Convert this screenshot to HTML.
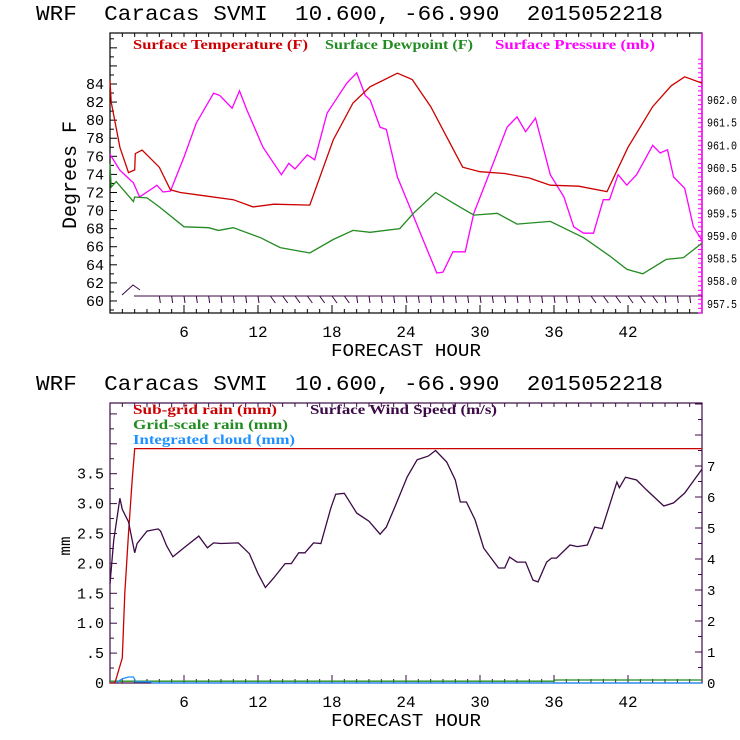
<!DOCTYPE html>
<html><head><meta charset="utf-8"><style>
body{margin:0;background:#fff}
svg{display:block}
text{white-space:pre}
.t{font-family:"Liberation Mono",monospace;fill:#000}
.lg{font-family:"Liberation Serif",serif;font-size:14px;font-weight:bold}
</style></head><body>
<svg id="c" width="740" height="740" viewBox="0 0 740 740"></svg>
<script>
// ---- data (hours / values) ----
const tempH=[0,0.1,0.8,1.5,2,2.05,2.6,4,4.9,5.7,7.3,10,11.6,13.3,16.2,18.1,19.7,21.1,23.3,24.5,26,28.6,30,32,34,35.7,38,40.3,42,44,45.5,46.6,48];
const tempV=[84.4,82,77,74.2,74.5,76.3,76.7,74.8,72.3,72,71.7,71.2,70.4,70.7,70.6,77.8,81.9,83.7,85.2,84.5,81.5,74.8,74.3,74.1,73.6,72.8,72.7,72.1,77,81.5,83.8,84.8,84.1];
const dewH=[0,0.1,0.5,1.9,2,3,4,6,8,8.8,10,12.2,13.8,16.2,18.1,19.7,21.1,23.5,24.6,26.4,28.1,29.5,31.4,33,35.7,38.4,40.5,41.9,43.2,45.1,46.5,48];
const dewV=[75.2,72.6,73.2,71,71.5,71.4,70.4,68.2,68.1,67.8,68.1,67,65.9,65.3,66.8,67.8,67.6,68,69.7,72,70.6,69.5,69.7,68.5,68.8,67,65,63.5,63,64.6,64.8,66.4];
const presH=[0,0.8,1.9,2.4,3.5,3.8,4.3,4.9,6,7,8.4,8.9,9.9,10.5,11.1,12.4,13.9,14.5,15,16,16.6,17.6,18.4,19.2,20,20.7,21.1,21.9,22.4,23.3,24.3,25.4,26.5,27,27.8,28.8,29.5,30.5,32.2,33,33.7,34.5,35.7,36.8,37.6,38.4,39.2,40,40.5,41.2,41.9,42.7,44,44.6,45.2,45.7,46.6,47.3,48];
const presV=[960.8,960.45,960.17,959.86,960.06,960.12,959.97,959.99,960.74,961.49,962.15,962.1,961.82,962.2,961.78,960.96,960.35,960.6,960.48,960.79,960.68,961.71,962.04,962.37,962.6,962.1,962.0,961.4,961.35,960.3,959.64,958.9,958.18,958.2,958.65,958.65,959.5,960.2,961.4,961.63,961.3,961.6,960.35,959.86,959.2,959.06,959.06,959.8,959.8,960.35,960.12,960.35,961,960.83,960.9,960.3,960.05,959.2,958.9];
const windH=[0,0.3,0.8,1,1.5,2,2.2,3,3.9,4.1,4.6,5.1,6,7.2,7.9,8.4,9,10.4,11.3,12,12.6,13.3,14.2,14.7,15.3,15.8,16.5,17.1,17.9,18.3,19,20,21,21.9,22.4,23.1,24.1,24.9,25.8,26.4,27.3,28,28.4,28.9,29.6,30.3,31.5,32,32.4,33,33.7,34.3,34.7,35.4,35.8,36.2,37.3,37.9,38.7,39.3,39.9,41.1,41.3,41.8,42.7,43.5,44.9,45.7,46.6,48];
const windV=[3.2,4.6,5.96,5.6,5.2,4.2,4.5,4.9,4.97,4.9,4.42,4.07,4.36,4.74,4.36,4.52,4.5,4.52,4.17,3.53,3.08,3.4,3.85,3.85,4.2,4.2,4.52,4.5,5.64,6.09,6.12,5.48,5.22,4.8,5.03,5.68,6.65,7.2,7.32,7.5,7.13,6.55,5.84,5.84,5.26,4.35,3.71,3.71,4.06,3.9,3.9,3.32,3.26,3.9,4.03,4.03,4.45,4.4,4.45,5.03,4.98,6.48,6.3,6.64,6.55,6.23,5.71,5.81,6.13,6.9];
const subH=[0,0.4,1,1.2,1.5,1.8,2,48];
const subV=[0,0,0.42,1.5,2.5,3.4,3.92,3.92];
const gridH=[0,36,36.1,48];
const gridV=[0.03,0.03,0.05,0.05];
const cloudH=[0,0.5,1,1.5,1.9,2.1,3.3,3.4,48];
const cloudV=[0,0.01,0.07,0.1,0.1,0.02,0.02,0,0];
const hourTicks=[6,12,18,24,30,36,42];
const tempTicks=[60,62,64,66,68,70,72,74,76,78,80,82,84];
const presTicks=[957.5,958.0,958.5,959.0,959.5,960.0,960.5,961.0,961.5,962.0];
const mmTicks=[0,0.5,1,1.5,2,2.5,3,3.5];
const mmLabels=["0",".5","1.0","1.5","2.0","2.5","3.0","3.5"];
const windTicks=[0,1,2,3,4,5,6,7];

// ---- axes ----
const X0=110,X1=702;
const xS=h=>X0+h*(X1-X0)/48;
const yTemp=v=>84+(84-v)*9.04;
const yPres=v=>100+(962-v)*45.3;
const yMM=v=>683-v*59.8;
const yWind=v=>683-v*31;

const svg=document.getElementById('c');
const NS='http://www.w3.org/2000/svg';
function el(tag,attrs,parent){const e=document.createElementNS(NS,tag);for(const k in attrs)e.setAttribute(k,attrs[k]);(parent||svg).appendChild(e);return e;}
function txt(s,x,y,attrs,parent){const e=el('text',Object.assign({x:x,y:y},attrs),parent);e.textContent=s;return e;}
function line(H,V,ys,color,name){
  let d='';H.forEach((h,i)=>{d+=(i?'L':'M')+xS(h).toFixed(1)+','+ys(V[i]).toFixed(1);});
  const p=el('path',{d:d,fill:'none',stroke:color,'stroke-width':1.3});
  
  
  return p;
}

// titles
[[20,'title-top'],[390,'title-bottom']].forEach(([y,n])=>{
  const t=txt('WRF  Caracas SVMI  10.600, -66.990  2015052218',36,y,{class:'t','font-size':21,textLength:627,lengthAdjust:'spacingAndGlyphs'});
  
  
});

function frame(y0,y1,color,name){
  const r=el('rect',{x:X0,y:y0,width:X1-X0,height:y1-y0,fill:'none',stroke:color,'stroke-width':1.2});
  
  
  for(let h=1;h<48;h++){
    const len=h%6===0?8:4;
    el('line',{x1:xS(h),x2:xS(h),y1:y1,y2:y1-len,stroke:color});
    el('line',{x1:xS(h),x2:xS(h),y1:y0,y2:y0+4,stroke:color});
  }
  hourTicks.forEach(h=>{const t=txt(String(h),xS(h),y1+24,{class:'t','font-size':16,'text-anchor':'middle'});
    
    });
  const xl=txt('FORECAST HOUR',406,y1+43,{class:'t','font-size':18,'text-anchor':'middle',textLength:150,lengthAdjust:'spacingAndGlyphs'});
  
  
}

// ---- top panel ----
frame(33,313,'#000','top-plot-frame');
for(let v=59;v<=89;v++){el('line',{x1:X0,x2:X0+(v%2===0?7:4),y1:yTemp(v),y2:yTemp(v),stroke:'#000'});}
tempTicks.forEach(v=>{const t=txt(String(v),104,yTemp(v)+5,{class:'t','font-size':15,'text-anchor':'end'});
  
  });
el('line',{x1:X1,x2:X1,y1:33,y2:313,stroke:'#ff00ff','stroke-width':1.5});
for(let v=957.3;v<=963.0;v+=0.1){const y=yPres(v);if(y<33||y>313)continue;el('line',{x1:X1,x2:X1-4,y1:y,y2:y,stroke:'#ff00ff'});}
presTicks.forEach(v=>{const t=txt(v.toFixed(1),707,yPres(v)+4,{class:'t','font-size':12,textLength:30,lengthAdjust:'spacingAndGlyphs'});
  
  });
const yl=txt('Degrees F',0,0,{class:'t','font-size':20,'text-anchor':'middle',transform:'translate(76,175) rotate(-90)'});


[['Surface Temperature (F)',133,'#cc0000',175,'legend-temperature'],['Surface Dewpoint (F)',325,'#228b22',148,'legend-dewpoint'],['Surface Pressure (mb)',495,'#ff00ff',160,'legend-pressure']].forEach(([s,x,c,w,n])=>{
  const t=txt(s,x,49,{class:'lg',fill:c,textLength:w,lengthAdjust:'spacingAndGlyphs'});
  
  
});
line(presH,presV,yPres,'#ff00ff','pressure-line');
line(dewH,dewV,yTemp,'#228b22','dewpoint-line');
line(tempH,tempV,yTemp,'#cc0000','temperature-line');
// wind barbs
const barbs=el('g',{stroke:'#3c0a46','stroke-width':1,fill:'none'});


el('path',{d:'M122,295 L133,285 L140,290'},barbs);
el('line',{x1:134,x2:702,y1:296,y2:296},barbs);
for(let h=4;h<48;h+=1){const x=xS(h);el('line',{x1:x,x2:x+(h>12&&h<20||h>38&&h<45?5:1),y1:296,y2:303},barbs);}

// ---- bottom panel ----
const P='#3c0a46';
frame(403,683,P,'bottom-plot-frame');
for(let v=0;v<=4.6;v+=0.25){const y=yMM(v);if(y<403)continue;el('line',{x1:X0,x2:X0+(Math.round(v*4)%2===0?7:4),y1:y,y2:y,stroke:P});}
mmTicks.forEach((v,i)=>{const t=txt(mmLabels[i],104,yMM(v)+5,{class:'t','font-size':15,'text-anchor':'end'});
  
  });
for(let v=0;v<=9;v+=0.5){const y=yWind(v);if(y<403)continue;el('line',{x1:X1,x2:X1-(v%1===0?7:4),y1:y,y2:y,stroke:P});}
windTicks.forEach(v=>{const t=txt(String(v),707,yWind(v)+5,{class:'t','font-size':14});
  
  });
const yl2=txt('mm',0,0,{class:'t','font-size':16,'text-anchor':'middle',transform:'translate(70,546) rotate(-90)'});


[['Sub-grid rain (mm)',133,414,'#cc0000',144,'legend-subgrid-rain'],['Surface Wind Speed (m/s)',310,414,P,187,'legend-wind-speed'],['Grid-scale rain (mm)',133,429,'#228b22',155,'legend-gridscale-rain'],['Integrated cloud (mm)',133,444,'#1e90ff',162,'legend-integrated-cloud']].forEach(([s,x,y,c,w,n])=>{
  const t=txt(s,x,y,{class:'lg',fill:c,textLength:w,lengthAdjust:'spacingAndGlyphs'});
  
  
});
line(gridH,gridV,yMM,'#228b22','gridscale-rain-line');
line(cloudH,cloudV,yMM,'#1e90ff','integrated-cloud-line');
line(subH,subV,yMM,'#cc0000','subgrid-rain-line');
line(windH,windV,yWind,P,'wind-speed-line');
</script>
</body></html>
